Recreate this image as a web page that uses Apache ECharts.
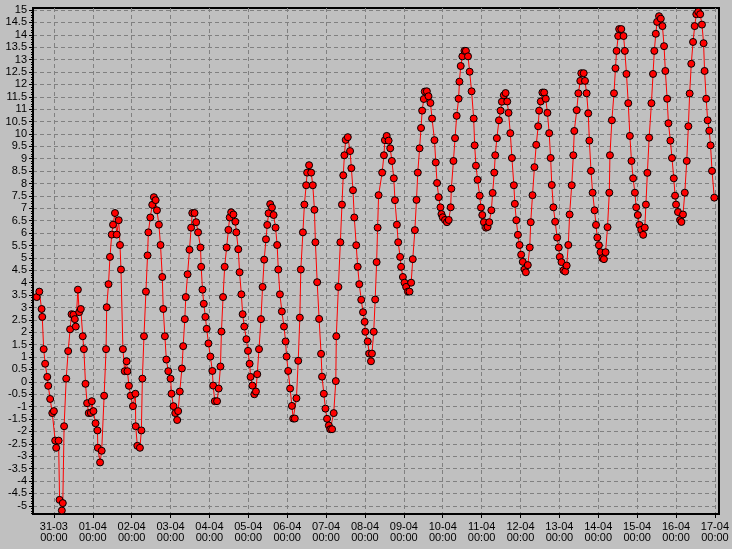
<!DOCTYPE html>
<html><head><meta charset="utf-8">
<script src="https://cdn.jsdelivr.net/npm/echarts@6/dist/echarts.min.js"></script>
<style>html,body{margin:0;padding:0;background:#c0c0c0}#c{width:732px;height:549px}</style>
</head><body><div id="c"></div><script>
const dayLabels = ['31-03','01-04','02-04','03-04','04-04','05-04','06-04','07-04','08-04','09-04','10-04','11-04','12-04','13-04','14-04','15-04','16-04','17-04'];
const timeLabel = '00:00';
const yTicks = [-5,-4.5,-4,-3.5,-3,-2.5,-2,-1.5,-1,-0.5,0,0.5,1,1.5,2,2.5,3,3.5,4,4.5,5,5.5,6,6.5,7,7.5,8,8.5,9,9.5,10,10.5,11,11.5,12,12.5,13,13.5,14,14.5,15];
// hours after 31-03 00:00
const hours = [-10.6,-9.0,-7.6,-7.2,-6.3,-5.4,-4.1,-3.5,-2.3,-1.0,0,0.8,1.4,2.9,3.5,4.9,5.5,6.3,7.6,8.8,10.0,10.9,12.1,12.9,13.5,14.8,15.6,16.6,17.8,18.5,19.5,20.5,21.5,22.8,23.4,24.4,25.7,26.9,27.1,28.5,29.5,31.0,32.2,32.6,33.7,34.6,35.7,36.5,37.7,38.8,40.0,40.8,41.4,42.6,43.7,44.9,45.4,46.3,47.4,48.8,50.3,50.5,51.5,53.1,54.0,54.6,55.6,56.8,57.8,58.3,59.5,60.7,61.7,62.8,63.6,64.8,65.8,66.9,67.5,68.5,69.4,70.6,72.0,72.6,73.8,74.9,76.1,76.7,77.7,79.0,79.8,80.8,81.4,82.5,83.7,84.7,85.4,86.8,87.8,89.0,90.5,90.9,91.7,92.5,93.5,94.3,95.4,96.6,97.8,98.3,99.3,100.7,101.7,102.8,103.4,104.4,105.4,106.6,107.7,108.5,109.4,110.8,112.0,112.6,113.8,114.6,115.7,116.5,117.5,118.8,119.8,120.8,121.4,122.5,123.7,124.7,125.5,126.6,127.8,128.8,129.8,130.9,131.7,132.5,133.5,134.6,135.6,136.8,137.8,138.5,139.5,140.7,142.0,143.0,143.6,144.6,145.8,146.9,147.7,148.7,149.7,150.8,151.8,152.4,153.7,154.6,155.7,156.3,157.5,158.8,159.8,160.8,161.4,162.5,163.7,164.9,165.5,166.6,167.6,168.6,169.7,170.6,171.7,172.7,174.0,174.3,175.6,176.8,177.8,178.6,179.3,180.1,181.4,182.8,183.6,184.6,185.4,186.6,187.5,188.5,189.7,190.8,191.8,192.2,193.7,194.6,195.7,196.3,197.4,198.3,199.2,199.8,200.4,202.6,203.7,204.3,205.4,206.6,207.6,208.6,209.8,210.5,211.7,212.5,213.7,214.3,215.4,216.4,217.4,218.5,219.5,220.5,221.5,222.8,223.8,224.6,225.7,226.6,227.3,228.3,228.9,230.2,231.2,232.4,233.4,234.9,235.7,236.5,237.5,238.6,239.2,240.0,241.4,242.6,243.7,244.9,245.3,246.6,247.6,248.6,249.8,250.3,251.1,252.1,253.4,254.3,255.6,256.6,257.8,259.1,259.7,260.5,261.5,262.8,263.6,264.4,265.4,266.7,267.7,268.7,270.0,270.8,271.8,272.4,273.4,274.7,275.7,276.5,277.7,278.8,279.8,280.6,281.7,282.7,283.9,284.5,285.4,286.4,287.4,288.4,289.4,290.5,291.3,292.5,293.7,294.3,295.4,296.6,297.7,298.9,299.5,300.5,301.5,302.6,303.6,304.6,305.7,306.6,307.3,308.3,309.4,310.6,311.6,312.2,313.3,314.5,315.6,316.5,317.5,318.3,319.6,320.6,321.2,322.7,323.7,324.9,325.5,327.0,327.8,328.8,329.8,330.5,331.5,332.5,333.7,334.6,335.4,336.4,337.4,338.5,339.5,340.5,341.7,342.8,343.2,344.4,345.7,346.6,347.3,348.3,348.9,350.2,351.6,352.4,353.4,354.5,355.5,356.5,357.5,358.6,359.4,360.4,361.4,362.5,363.7,364.7,365.4,366.3,367.4,368.8,369.8,370.6,371.5,372.3,373.5,374.6,375.6,376.6,377.4,378.5,379.3,380.5,381.5,382.6,383.4,384.0,385.2,386.5,387.3,388.3,389.4,390.6,391.6,392.4,393.4,394.5,395.5,396.5,397.7,398.9,400.0,401.0,401.6,402.6,403.5,404.5,405.3,406.2,407.6];
const temps = [3.42,3.64,2.94,2.62,1.32,0.73,0.20,-0.16,-0.69,-1.26,-1.18,-2.37,-2.66,-2.37,-4.76,-5.19,-4.89,-1.79,0.13,1.24,2.12,2.73,2.71,2.53,2.23,3.72,2.81,2.94,1.84,1.32,-0.08,-0.86,-1.26,-1.25,-0.78,-1.18,-1.67,-1.96,-2.66,-3.25,-2.78,-0.56,1.32,3.01,3.94,5.04,5.94,6.34,6.81,5.94,6.52,5.52,4.53,1.32,0.43,0.83,0.43,-0.16,-0.56,-0.98,-0.48,-1.79,-2.58,-2.66,-1.96,0.13,1.84,3.64,5.10,6.03,6.63,7.14,7.45,7.33,6.92,6.34,5.52,4.23,2.94,1.84,0.90,0.43,0.13,-0.48,-0.98,-1.26,-1.54,-1.18,-0.39,0.54,1.44,2.53,3.42,4.34,5.33,6.22,6.81,6.81,6.44,6.03,5.42,4.64,3.72,3.15,2.62,2.14,1.55,1.02,0.44,-0.15,-0.78,-0.78,-0.27,0.62,2.03,3.42,4.64,5.42,6.13,6.63,6.84,6.75,6.46,6.03,5.35,4.42,3.53,2.73,2.23,1.72,1.25,0.73,0.20,-0.15,-0.50,-0.39,0.31,1.32,2.53,3.83,4.93,5.75,6.33,6.80,7.17,7.03,6.73,6.22,5.52,4.53,3.53,2.84,2.23,1.63,1.02,0.44,-0.27,-0.97,-1.48,-1.48,-0.66,0.85,2.59,4.53,6.03,7.15,7.93,8.44,8.74,8.44,7.93,6.94,5.63,4.02,2.54,1.13,0.21,-0.48,-1.08,-1.49,-1.76,-1.91,-1.91,-1.26,0.03,1.84,3.83,5.63,7.15,8.33,9.14,9.76,9.87,9.31,8.62,7.73,6.63,5.51,4.64,3.94,3.31,2.81,2.42,2.02,1.63,1.14,0.83,1.14,2.02,3.32,4.83,6.22,7.53,8.44,9.14,9.75,9.92,9.73,9.42,8.91,8.21,7.33,6.34,5.63,5.04,4.64,4.23,4.00,3.83,3.64,3.64,4.00,4.95,6.12,7.34,8.44,9.42,10.24,10.94,11.41,11.71,11.72,11.52,11.25,10.62,9.75,8.85,8.02,7.45,7.04,6.77,6.64,6.53,6.44,6.53,7.04,7.79,8.91,9.83,10.73,11.42,12.11,12.74,13.13,13.35,13.35,13.13,12.51,11.72,10.62,9.54,8.72,8.15,7.51,7.03,6.73,6.44,6.22,6.25,6.44,6.92,7.62,8.44,9.14,9.83,10.55,10.94,11.30,11.56,11.65,11.31,10.85,10.03,9.03,7.93,7.18,6.52,5.93,5.52,5.13,4.84,4.54,4.42,4.71,5.42,6.44,7.53,8.66,9.56,10.31,10.94,11.31,11.67,11.67,11.42,10.85,10.03,9.03,7.94,7.04,6.46,5.82,5.42,5.04,4.83,4.50,4.45,4.69,5.52,6.75,7.93,9.14,10.12,10.96,11.64,12.14,12.45,12.45,12.14,11.64,10.83,9.73,8.51,7.63,6.92,6.33,5.82,5.51,5.23,4.99,4.95,5.23,6.24,7.63,9.14,10.55,11.64,12.65,13.35,13.95,14.23,14.23,13.95,13.35,12.42,11.24,9.92,8.91,8.21,7.63,7.04,6.73,6.33,6.13,5.93,6.22,7.15,8.43,9.85,11.24,12.42,13.35,14.04,14.52,14.75,14.65,14.35,13.54,12.54,11.42,10.43,9.73,9.03,8.21,7.51,7.15,6.85,6.53,6.45,6.75,7.63,8.91,10.31,11.63,12.83,13.71,14.35,14.83,14.93,14.83,14.41,13.66,12.54,11.42,10.55,10.13,9.54,8.51,7.43];

const dayTicks = dayLabels.map((d, i) => i * 24);
const minorY = [];
for (let i = -53; i <= 150; i++) { if (i % 5 !== 0) minorY.push(i / 10); }
const data = hours.map((h, i) => [h, temps[i]]);

const chart = echarts.init(document.getElementById('c'), null, { renderer: 'canvas' });
const font = { fontFamily: 'Liberation Sans, Arial, sans-serif', fontSize: 11, color: '#000' };
const dash = { color: '#808080', width: 1, type: [4, 3] };
chart.setOption({
  animation: false,
  backgroundColor: '#c0c0c0',
  grid: { left: 33, right: 11, top: 8, bottom: 35, show: true, borderColor: '#000', borderWidth: 2, backgroundColor: 'transparent' },
  xAxis: {
    type: 'value', min: -12.9, max: 410.5,
    axisLine: { show: true, onZero: false, lineStyle: { color: '#000', width: 2 } },
    axisTick: { show: true, customValues: dayTicks, length: 4, inside: false, lineStyle: { color: '#000', width: 1 } },
    axisLabel: Object.assign({ customValues: dayTicks, margin: 7, lineHeight: 11,
      formatter: v => dayLabels[Math.round(v / 24)] + '\n' + timeLabel }, font),
    splitLine: { show: true, lineStyle: dash }
  },
  yAxis: [{
    type: 'value', min: -5.33, max: 15.08,
    axisLine: { show: true, onZero: false, lineStyle: { color: '#000', width: 2 } },
    axisTick: { show: true, customValues: yTicks, length: 4, lineStyle: { color: '#000', width: 1 } },
    axisLabel: Object.assign({ customValues: yTicks, margin: 6, formatter: v => String(v) }, font),
    splitLine: { show: true, lineStyle: dash }
  }, {
    type: 'value', min: -5.33, max: 15.08, position: 'left', offset: 0,
    axisLine: { show: false, onZero: false },
    axisTick: { show: true, customValues: minorY, length: 2, lineStyle: { color: '#000', width: 1 } },
    axisLabel: { show: false },
    splitLine: { show: false }
  }],
  series: [{
    type: 'line', data: data, yAxisIndex: 0,
    lineStyle: { color: '#ff0000', width: 1 },
    symbol: 'circle', symbolSize: 7, showAllSymbol: true,
    itemStyle: { color: '#ff0000', borderColor: '#000', borderWidth: 1 },
    emphasis: { disabled: true }
  }]
});
</script></body></html>
